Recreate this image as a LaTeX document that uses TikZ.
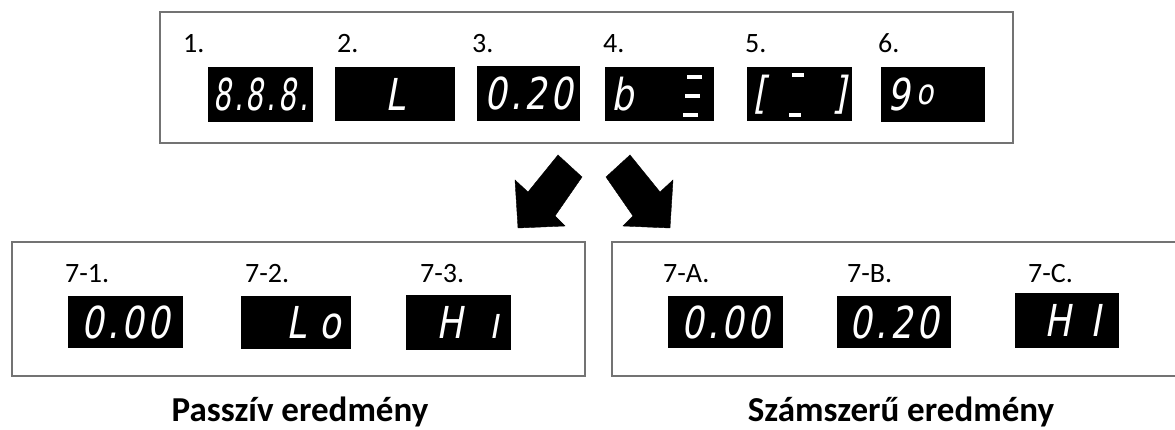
\documentclass[tikz,border=0pt]{standalone}
\usepackage{fontspec}
\usepackage{graphicx}
\setmainfont{Carlito}
\newfontfamily\segfont{DejaVu Sans}[FakeSlant=0.18, FakeStretch=0.8, LetterSpace=8]
\usetikzlibrary{calc}
\usetikzlibrary{positioning}

\tikzset{
  frame/.style={draw=black!55, line width=2.5pt},
  lcd/.style={fill=black, text=white, inner sep=0pt, anchor=north west,
    font=\segfont\fontsize{44}{44}\selectfont},
  num/.style={anchor=base west, inner sep=0pt, font=\fontsize{28}{28}\selectfont},
  title/.style={anchor=base, inner sep=0pt, font=\bfseries\fontsize{35}{35}\selectfont},
  bigarrow/.style={fill=black},
  seg/.style={fill=white}
}

\begin{document}
\begin{tikzpicture}[x=1pt, y=-1pt]
\useasboundingbox (0,0) rectangle (1175,430);

% upper panel
\draw[frame] (160,12) rectangle (1013,143);
\foreach \n/\x in {1/183, 2/337, 3/472, 4/603, 5/745, 6/878}
  \node[num] (lab\n) at (\x,53) {\n.};
\foreach \n/\x/\y/\w/\h/\t in {
    1/208/67/105/55/{\hfill\scalebox{0.8}[1]{8.8.8.}\hfill},
    2/335/67/120/54/{\hfill L\hfill},
    3/477/66/103/55/{\hfill 0.20\hfill},
    4/605/67/109/54/{b\hfill},
    5/747/67/105/54/{[\hfill]},
    6/881/67/104/55/{9\,\raisebox{6pt}{\scalebox{0.8}{o}}\hfill}}
  \node[lcd, minimum width=\w, minimum height=\h] (d\n) at (\x,\y)
    {\makebox[\dimexpr\w pt-12pt\relax]{\t}};
% single segments lit in 4. and 5.
\foreach \dx/\dy in {82/8, 80/27, 78/46}
  \fill[seg] ($(d4.north west)+(\dx,\dy)$) rectangle ++(15,4);
\foreach \dx/\dy in {45/6, 42/46}
  \fill[seg] ($(d5.north west)+(\dx,\dy)$) rectangle ++(12,4);

% the two arrows
\draw[bigarrow] (558,155) -- (582,177) -- (555,216) -- (565,226) -- (518,228)
  -- (515,180) -- (528,192) -- cycle;
\draw[bigarrow] (630,155) -- (606,177) -- (633,216) -- (623,226) -- (670,228)
  -- (673,180) -- (660,192) -- cycle;

% lower panels
\draw[frame] (12,242) rectangle (585,376);
\draw[frame] (612,242) rectangle (1190,376);
\foreach \n/\x in {1/65, 2/245, 3/420}
  \node[num] (pl\n) at (\x,283) {7-\n.};
\foreach \n/\x in {A/663, B/847, C/1028}
  \node[num] (sl\n) at (\x,283) {7-\n.};
\foreach \n/\x/\y/\w/\h/\t in {
    1/68/296/115/52/{\hfill 0.00\hfill},
    2/241/296/110/53/{\hfill L\hspace{14pt}o\hspace{4pt}},
    3/406/295/105/55/{\hfill H\hspace{26pt}ı\hspace{6pt}},
    A/668/296/115/52/{\hfill 0.00\hfill},
    B/837/296/114/52/{\hfill 0.20\hfill},
    C/1015/293/104/55/{\hfill H\hspace{20pt}I\hspace{12pt}}}
  \node[lcd, minimum width=\w, minimum height=\h] (r\n) at (\x,\y)
    {\makebox[\dimexpr\w pt-12pt\relax]{\t}};

\node[title] (passive) at (300,421) {Passzív eredmény};
\node[title] (numeric) at (901,421) {Számszerű eredmény};
\end{tikzpicture}
\end{document}
